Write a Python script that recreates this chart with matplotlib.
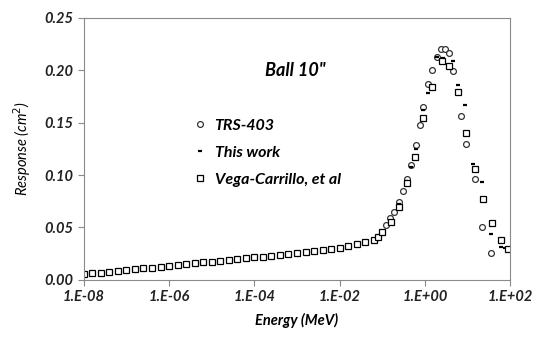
import matplotlib.pyplot as plt
from matplotlib.ticker import FixedLocator
import numpy as np

plt.rcParams['font.family'] = ['Lato', 'DejaVu Sans']

# shared low-energy grid (log10 MeV), 0.2 decade steps
log_low = [-8.0, -7.8, -7.6, -7.4, -7.2, -7.0, -6.8, -6.6, -6.4, -6.2,
           -6.0, -5.8, -5.6, -5.4, -5.2, -5.0, -4.8, -4.6, -4.4, -4.2,
           -4.0, -3.8, -3.6, -3.4, -3.2, -3.0, -2.8, -2.6, -2.4, -2.2,
           -2.0, -1.8, -1.6, -1.4, -1.2, -1.1, -1.0]
resp_low = [0.0055, 0.0062, 0.0069, 0.0077, 0.0085, 0.0093, 0.0101, 0.0109,
            0.0117, 0.0125, 0.0134, 0.0142, 0.0150, 0.0158, 0.0166, 0.0174,
            0.0182, 0.0190, 0.0198, 0.0206, 0.0215, 0.0223, 0.0231, 0.0239,
            0.0248, 0.0257, 0.0266, 0.0275, 0.0285, 0.0296, 0.0308, 0.0322,
            0.0338, 0.0357, 0.0380, 0.0410, 0.0460]

# TRS-403 (circles), high-energy part
e_trs = [0.123, 0.152, 0.189, 0.248, 0.308, 0.382, 0.474, 0.622, 0.771,
         0.907, 1.19, 1.48, 1.93, 2.40, 2.98, 3.70, 4.59, 7.08, 9.27,
         15.1, 22.0, 35.8]
r_trs = [0.052, 0.059, 0.065, 0.074, 0.085, 0.096, 0.110, 0.129, 0.148,
         0.165, 0.187, 0.200, 0.213, 0.220, 0.220, 0.216, 0.199, 0.156,
         0.130, 0.096, 0.050, 0.026]

# This work (dashes)
e_this = [0.16, 0.25, 0.362, 0.474, 0.62, 0.907, 1.19, 1.93, 2.6, 4.59,
          6.01, 8.79, 13.5, 22.0, 35.8, 61.5, 76.4]
r_this = [0.055, 0.072, 0.094, 0.108, 0.125, 0.162, 0.178, 0.213, 0.212,
          0.209, 0.186, 0.167, 0.111, 0.0935, 0.044, 0.031, 0.030]

# Vega-Carrillo, et al (squares)
e_vega = [0.161, 0.248, 0.382, 0.589, 0.907, 1.48, 2.53, 3.70, 6.01, 9.27,
          15.1, 23.2, 37.8, 61.5, 89.8]
r_vega = [0.055, 0.070, 0.092, 0.117, 0.154, 0.184, 0.209, 0.204, 0.179,
          0.140, 0.106, 0.077, 0.054, 0.038, 0.029]

e_low = [10 ** v for v in log_low]

fig = plt.figure(figsize=(5.44, 3.43), dpi=100)
ax = fig.add_axes([0.154, 0.184, 0.784, 0.764])

ax.plot(e_low + e_trs, resp_low + r_trs, 'o', ls='none', mfc='white',
        mec='#333333', ms=4.2, mew=0.9, label='TRS-403')
ax.plot(e_low + e_this, resp_low + r_this, '_', ls='none', color='black',
        ms=3.5, mew=1.6, label='This work')
ax.plot(e_low + e_vega, resp_low + r_vega, 's', ls='none', mfc='white',
        mec='black', ms=4.2, mew=0.9, label='Vega-Carrillo, et al')

ax.set_xscale('log')
ax.set_xlim(1e-8, 1e2)
ax.set_ylim(0, 0.25)
xt = [1e-8, 1e-6, 1e-4, 1e-2, 1e0, 1e2]
xl = ['1.E-08', '1.E-06', '1.E-04', '1.E-02', '1.E+00', '1.E+02']
ax.xaxis.set_major_locator(FixedLocator(xt))
ax.set_xticks(xt)
ax.set_xticklabels(xl)
ax.minorticks_off()
ax.set_yticks([0, 0.05, 0.10, 0.15, 0.20, 0.25])
ax.set_yticklabels(['0.00', '0.05', '0.10', '0.15', '0.20', '0.25'])

for lab in ax.get_xticklabels() + ax.get_yticklabels():
    lab.set_fontweight('bold')
    lab.set_fontstyle('italic')
    lab.set_fontsize(10.5)
    lab.set_color('#222222')

for s in ax.spines.values():
    s.set_color('#8a8a8a')
ax.tick_params(direction='out', length=4, color='#8a8a8a', width=0.8)

ax.set_xlabel('Energy (MeV)', fontsize=10.5, fontweight='bold',
              fontstyle='italic', labelpad=6)
ax.set_ylabel('Response (cm$^2$)', fontsize=10.5, fontstyle='italic',
              labelpad=8)

ax.text(0.425, 0.80, 'Ball 10"', transform=ax.transAxes, fontsize=13,
        fontweight='bold', fontstyle='italic', ha='left', va='center')

leg = ax.legend(loc='upper left', bbox_to_anchor=(0.228, 0.67), frameon=False,
                handlelength=0.6, handletextpad=0.6, labelspacing=0.8,
                prop={'weight': 'bold', 'style': 'italic', 'size': 11.5})

fig.savefig('out.png', dpi=100)
